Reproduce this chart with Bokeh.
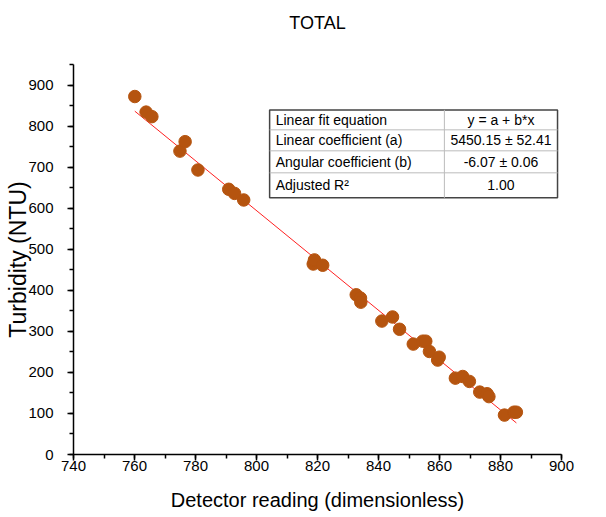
from bokeh.plotting import figure
from bokeh.embed import file_html
from bokeh.resources import INLINE
from bokeh.models import Range1d, SingleIntervalTicker, Title
from bokeh.core.properties import value

# ---- data ----
detector = [760.1, 763.8, 765.7, 774.9, 776.6, 780.8, 790.9, 792.8, 795.8,
            818.6, 819.0, 821.7, 832.7, 834.1, 834.2, 841.1, 844.6, 846.9,
            851.4, 854.5, 855.5, 856.7, 859.4, 859.9, 865.2, 867.6, 869.8,
            873.2, 875.6, 876.2, 881.3, 884.4, 885.2]
turbidity = [872, 834, 823, 739, 762, 693, 646, 636, 620,
             464, 474, 461, 389, 381, 371, 325, 335, 305,
             269, 276, 276, 251, 230, 237, 186, 190, 178,
             152, 148, 141, 96, 103, 103]

fit_a = 5450.15
fit_b = -6.07

table_labels = ["Linear fit equation", "Linear coefficient (a)",
                "Angular coefficient (b)", "Adjusted R\u00b2"]
table_values = ["y = a + b*x", "5450.15 \u00b1 52.41", "-6.07 \u00b1 0.06", "1.00"]

x_ticks_step = 20
y_ticks_step = 100

FONT = "Liberation Sans"

p = figure(width=606, height=517, output_backend="svg", toolbar_location=None,
           x_range=Range1d(740, 900), y_range=Range1d(0, 950),
           min_border_left=73, min_border_right=45, min_border_top=64,
           min_border_bottom=63, title="TOTAL")
p.title.text_font = FONT
p.title.text_font_size = "18px"
p.title.text_font_style = "normal"
p.title.align = "center"
p.title.text_color = "black"
p.title.standoff = 0

# blank spacer between the frame and the title (pushes the title upward)
p.add_layout(Title(text=" ", text_font=FONT, text_font_size="18px", standoff=10), "above")

p.outline_line_color = None
p.xgrid.grid_line_color = None
p.ygrid.grid_line_color = None

p.xaxis.ticker = SingleIntervalTicker(interval=x_ticks_step, num_minor_ticks=2)
p.yaxis.ticker = SingleIntervalTicker(interval=y_ticks_step, num_minor_ticks=2)

for ax in (p.xaxis[0], p.yaxis[0]):
    ax.axis_line_color = "black"
    ax.axis_line_width = 1.5
    ax.major_tick_line_color = "black"
    ax.major_tick_line_width = 1.5
    ax.minor_tick_line_color = "black"
    ax.minor_tick_line_width = 1.5
    ax.major_tick_out = 6
    ax.major_tick_in = 0
    ax.minor_tick_out = 4
    ax.minor_tick_in = 0
    ax.major_label_text_font = FONT
    ax.major_label_text_font_size = "15px"
    ax.major_label_text_color = "black"
    ax.axis_label_text_font = FONT
    ax.axis_label_text_font_style = "normal"
    ax.axis_label_text_color = "black"

p.xaxis.axis_label = "Detector reading (dimensionless)"
p.yaxis.axis_label = "Turbidity (NTU)"
p.xaxis.axis_label_text_font_size = "20px"
p.yaxis.axis_label_text_font_size = "23px"
p.xaxis.major_label_standoff = 0
p.yaxis.major_label_standoff = 14
p.xaxis.axis_label_standoff = 15
p.yaxis.axis_label_standoff = -6

# fit line over data range
fx = [min(detector), max(detector)]
fy = [fit_a + fit_b * v for v in fx]
p.line(fx, fy, line_color="#ff2020", line_width=1)

p.scatter(detector, turbidity, size=12.5, fill_color="#b5540f", line_color="#b5540f")

# ---- table ----
tx0, tx1, txm = 804.3, 898.7, 861.6
row_edges = [839.4, 790.8, 739.7, 686.1, 625.3]
p.quad(left=[tx0], right=[tx1], top=[row_edges[0]], bottom=[row_edges[-1]],
       fill_color="white", line_color="#444444", line_width=1.5)
p.segment(x0=[tx0] * 3, x1=[tx1] * 3, y0=row_edges[1:4], y1=row_edges[1:4],
          line_color="#bbbbbb", line_width=1)
p.segment(x0=[txm], x1=[txm], y0=[row_edges[0]], y1=[row_edges[-1]],
          line_color="#bbbbbb", line_width=1)
centers = [(row_edges[i] + row_edges[i + 1]) / 2 for i in range(4)]
p.text(x=[806.3] * 4, y=centers, text=table_labels, text_font=value(FONT),
       text_font_size="14px", text_baseline="middle", text_align="left",
       text_color="black")
p.text(x=[(txm + tx1) / 2] * 4, y=centers, text=table_values, text_font=value(FONT),
       text_font_size="14px", text_baseline="middle", text_align="center",
       text_color="black")

open("out.html", "w").write(file_html(p, INLINE))
